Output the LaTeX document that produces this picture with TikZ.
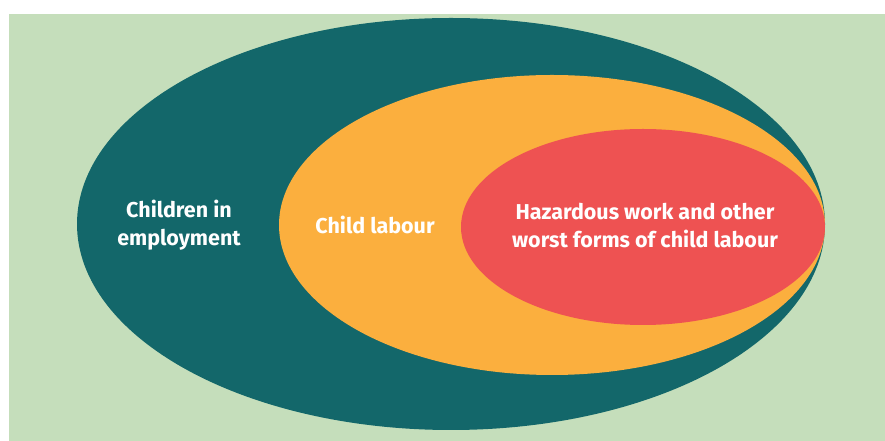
\documentclass[tikz,border=0pt]{standalone}
\usepackage{fontspec}
\setmainfont{Fira Sans}

\definecolor{bggreen}{HTML}{C5DEBB}
\definecolor{ringteal}{HTML}{13676A}
\definecolor{ringorange}{HTML}{FBAF3E}
\definecolor{ringred}{HTML}{EE5252}

\begin{document}
\begin{tikzpicture}[x=1pt, y=1pt,
    ringlabel/.style={text=white, font=\bfseries\fontsize{21.5}{28}\selectfont, align=center}]
            % page & background
            \fill[white] (0,0) rectangle (885,441);
            \useasboundingbox (0,0) rectangle (885,441);
            \fill[bggreen] (9,0) rectangle (885,427);

            % nested ellipses
            \fill[ringteal] (451,217) ellipse (374pt and 206pt);
            \fill[ringorange] (552,216) ellipse (273pt and 150pt);
            \fill[ringred] (643,214) ellipse (182pt and 98pt);

            % labels
            \node[ringlabel] (employ) at (179,216) {Children in\\employment};
            \node[ringlabel] (labour) at (375,216) {Child labour};
            \node[ringlabel] (hazard) at (645,215) {Hazardous work and other\\worst forms of child labour};
        \end{tikzpicture}
\end{document}
